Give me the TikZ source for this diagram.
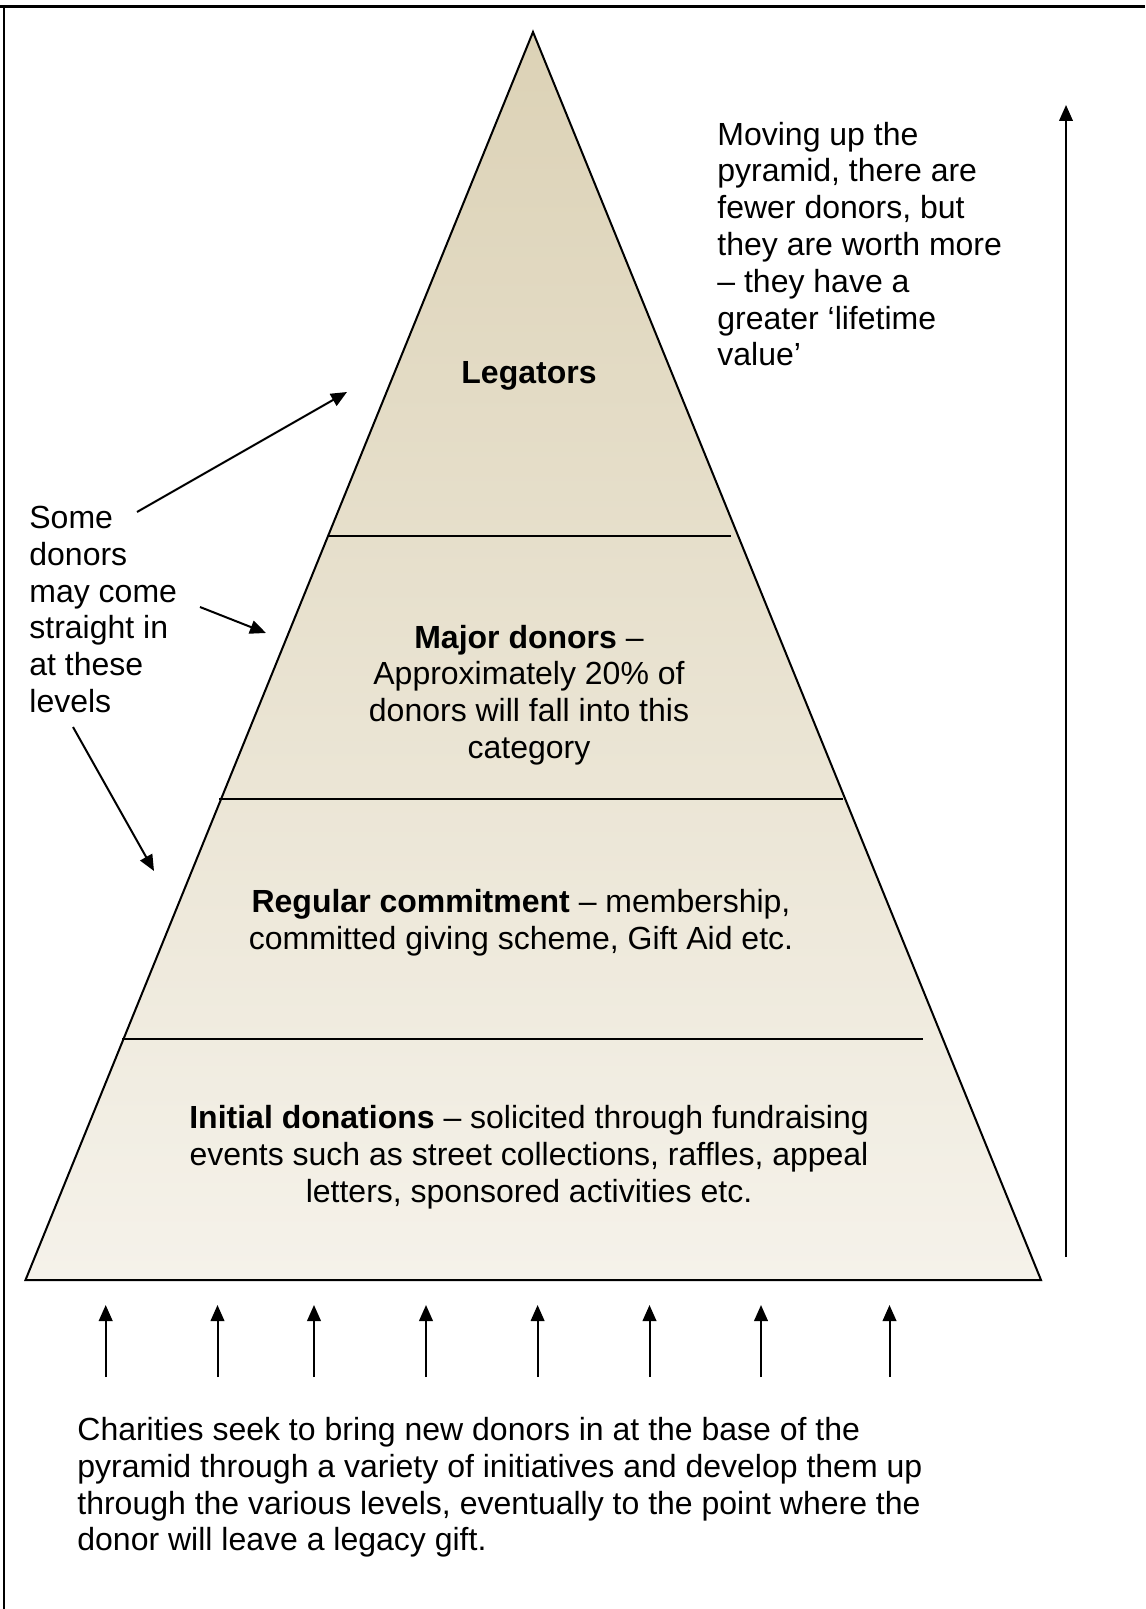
\documentclass[tikz,border=0pt]{standalone}
\usepackage{fontspec}
\setmainfont{Liberation Sans}
\usetikzlibrary{arrows.meta}
\definecolor{tantop}{RGB}{220,210,182}
\definecolor{tanbottom}{RGB}{245,242,234}
\begin{document}
\begin{tikzpicture}[x=0.5pt,y=-0.5pt,
  txt/.style={font=\fontsize{16}{18.4}\selectfont, inner sep=0pt},
  arr/.style={line width=1pt, -{Triangle[length=8pt,width=6.8pt]}},
  edgeline/.style={line width=1pt}]
\useasboundingbox (0,0) rectangle (1145,1609);
% outer frame (top and left rules)
\draw[line width=1.5pt] (0,7) -- (1145,7);
\draw[line width=0.75pt] (4,7) -- (4,1609);
% pyramid body
\coordinate (apex) at (533,32);
\coordinate (bl) at (25.5,1280);
\coordinate (br) at (1041,1280);
\shade[top color=tantop, bottom color=tanbottom] (apex) -- (br) -- (bl) -- cycle;
\draw[edgeline, line join=miter] (apex) -- (br) -- (bl) -- cycle;
% level dividers
\coordinate (d1l) at (328.5,535.5); \coordinate (d1r) at (731,535.5);
\coordinate (d2l) at (219,799);     \coordinate (d2r) at (843,799);
\coordinate (d3l) at (122,1039);    \coordinate (d3r) at (923,1039);
\draw[edgeline] (d1l) -- (d1r);
\draw[edgeline] (d2l) -- (d2r);
\draw[edgeline] (d3l) -- (d3r);
% level labels
\node[txt, font=\fontsize{16}{18.4}\selectfont\bfseries] (legators) at (529,376) {Legators};
\node[txt, align=center] (major) at (529,695) {\textbf{Major donors} –\\Approximately 20\% of\\donors will fall into this\\category};
\node[txt, align=center] (regular) at (521,922.5) {\textbf{Regular commitment} – membership,\\committed giving scheme, Gift Aid etc.};
\node[txt, align=center] (initial) at (529,1157) {\textbf{Initial donations} – solicited through fundraising\\events such as street collections, raffles, appeal\\letters, sponsored activities etc.};
% side notes
\node[txt, align=left, anchor=west] (valuenote) at (717,244) {Moving up the\\pyramid, there are\\fewer donors, but\\they are worth more\\– they have a\\greater ‘lifetime\\value’};
\node[txt, align=left, anchor=west] (entrynote) at (29,609.5) {Some\\donors\\may come\\straight in\\at these\\levels};
\node[txt, align=left, anchor=west] (basenote) at (77,1487.5) {Charities seek to bring new donors in at the base of the\\pyramid through a variety of initiatives and develop them up\\through the various levels, eventually to the point where the\\donor will leave a legacy gift.};
% value arrow
\coordinate (vs) at (1066,1257); \coordinate (ve) at (1066,105);
\draw[arr] (vs) -- (ve);
% direct entry arrows
\coordinate (e1s) at (137,512); \coordinate (e1e) at (347,392);
\coordinate (e2s) at (200,607); \coordinate (e2e) at (266,633);
\coordinate (e3s) at (73,727);  \coordinate (e3e) at (154,871);
\draw[arr] (e1s) -- (e1e);
\draw[arr] (e2s) -- (e2e);
\draw[arr] (e3s) -- (e3e);
% base entry arrows
\foreach \i/\x in {1/105.7,2/217.5,3/314,4/426,5/537.6,6/649.5,7/761,8/889.5}{
  \coordinate (b\i s) at (\x,1377);
  \coordinate (b\i e) at (\x,1305);
  \draw[arr] (b\i s) -- (b\i e);
}
\end{tikzpicture}
\end{document}
